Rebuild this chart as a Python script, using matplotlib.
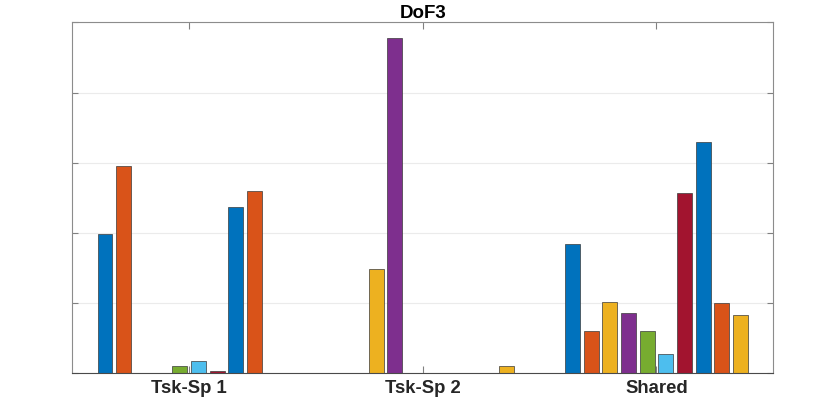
import matplotlib.pyplot as plt
import numpy as np

plt.rcParams['font.family'] = ['Liberation Sans', 'DejaVu Sans']

groups = ['Tsk-Sp 1', 'Tsk-Sp 2', 'Shared']
# one list per series (10 series), values for the three groups
s1 = [1.98, 0.0, 1.84]
s2 = [2.95, 0.0, 0.60]
s3 = [0.0, 1.48, 1.01]
s4 = [0.0, 4.78, 0.855]
s5 = [0.105, 0.0, 0.60]
s6 = [0.17, 0.0, 0.27]
s7 = [0.035, 0.0, 2.57]
s8 = [2.37, 0.0, 3.29]
s9 = [2.60, 0.0, 1.005]
s10 = [0.0, 0.105, 0.83]
series = [s1, s2, s3, s4, s5, s6, s7, s8, s9, s10]

matlab_colors = ['#0072BD', '#D95319', '#EDB120', '#7E2F8E',
                 '#77AC30', '#4DBEEE', '#A2142F']

fig = plt.figure(figsize=(8.30, 3.99), dpi=100)
ax = fig.add_axes([72.3 / 830, 1 - 373.3 / 399, 701 / 830, 351 / 399])

x = np.arange(1, len(groups) + 1)
n = len(series)
step = 0.8 / n
for i, vals in enumerate(series):
    offs = (i - (n - 1) / 2) * step
    ax.bar(x + offs, vals, width=step * 0.8, color=matlab_colors[i % 7],
           edgecolor='#3a3a3a', linewidth=0.5, zorder=3)

ax.set_xlim(0.5, 3.5)
ax.set_ylim(0, 5)
ax.set_xticks(x)
ax.set_xticklabels(groups, fontsize=13.3, fontweight='bold', color='#262626')
ax.set_yticks(np.arange(0, 6))
ax.set_yticklabels([])
ax.tick_params(axis='both', direction='in', length=4, color='#808080',
               top=True, right=True)
ax.tick_params(axis='x', length=5, pad=4.5)
ax.grid(axis='y', color='#ebebeb', linewidth=0.8, zorder=0)
for side in ['top', 'left', 'right']:
    ax.spines[side].set_color('#8c8c8c')
    ax.spines[side].set_linewidth(0.8)
ax.spines['bottom'].set_color('#4a4a4a')
ax.spines['bottom'].set_linewidth(0.8)
ax.spines['bottom'].set_zorder(4)

ax.set_title('DoF3', fontsize=13.5, fontweight='bold', pad=3)

fig.savefig('out.png', dpi=100)
